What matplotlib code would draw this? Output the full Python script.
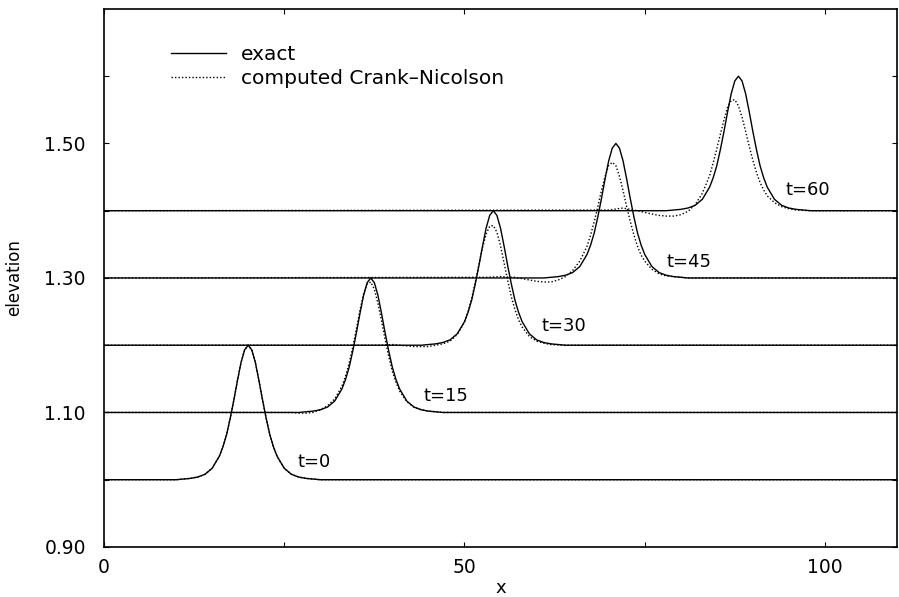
import numpy as np
import matplotlib
matplotlib.use("Agg")
import matplotlib.pyplot as plt
from matplotlib.ticker import FixedLocator, FixedFormatter

plt.rcParams["font.family"] = ["DejaVu Sans"]

# wave snapshots
times = [0, 15, 30, 45, 60]
peak_x = [20, 37, 54, 71, 88]
base_level = [1.0, 1.1, 1.2, 1.3, 1.4]

# offsets from the exact peak
offsets = [-18, -16, -14, -12, -11, -10, -9, -8, -7, -6, -5, -4, -3.5, -3, -2.5,
           -2, -1.5, -1, -0.5, 0, 0.5, 1, 1.5, 2, 2.5, 3, 3.5, 4, 5, 6, 7, 8, 10]

# elevation above the still level
exact_rise = [0, 0, 0, 0, 0, 0, 0.001, 0.002, 0.004, 0.008, 0.017, 0.035, 0.049,
              0.067, 0.091, 0.118, 0.147, 0.174, 0.193, 0.200, 0.193, 0.174, 0.147,
              0.118, 0.091, 0.067, 0.049, 0.035, 0.017, 0.008, 0.004, 0.002, 0]

cn_rise = {
    0: exact_rise,
    15: [0, 0, 0, 0, 0, -0.001, -0.001, 0.000, 0.004, 0.010, 0.020, 0.039, 0.054,
         0.073, 0.097, 0.124, 0.152, 0.176, 0.191, 0.194, 0.183, 0.162, 0.136,
         0.108, 0.083, 0.061, 0.045, 0.032, 0.016, 0.008, 0.004, 0.002, 0],
    30: [0, 0, 0.001, -0.001, -0.002, -0.002, -0.002, 0.000, 0.002, 0.006, 0.016,
         0.034, 0.050, 0.070, 0.094, 0.120, 0.145, 0.165, 0.177, 0.178, 0.168,
         0.148, 0.122, 0.096, 0.072, 0.053, 0.038, 0.027, 0.013, 0.006, 0.003,
         0.001, 0],
    45: [0.001, 0.002, 0.001, -0.003, -0.005, -0.006, -0.006, -0.003, 0.002, 0.011,
         0.025, 0.047, 0.064, 0.084, 0.106, 0.130, 0.151, 0.167, 0.172, 0.167,
         0.151, 0.130, 0.106, 0.084, 0.064, 0.047, 0.034, 0.025, 0.013, 0.006,
         0.003, 0.002, 0],
    60: [0.001, 0.004, 0.000, -0.005, -0.007, -0.008, -0.008, -0.006, -0.001, 0.009,
         0.026, 0.052, 0.071, 0.092, 0.114, 0.135, 0.154, 0.164, 0.165, 0.156,
         0.139, 0.118, 0.096, 0.075, 0.057, 0.042, 0.031, 0.022, 0.012, 0.006,
         0.003, 0.001, 0],
}

label_x = [29.2, 47.4, 63.8, 81.1, 97.6]
label_y = [1.026, 1.125, 1.228, 1.323, 1.431]

x_lo, x_hi = 0, 110


def wave_line(peak, level, rise):
    xs = np.concatenate([[x_lo], peak + np.array(offsets), [x_hi]])
    ys = level + np.concatenate([[0], rise, [0]])
    return xs, ys


fig = plt.figure(figsize=(8.99, 5.97), dpi=100)
ax = fig.add_axes([0.1157, 0.0838, 0.8821, 0.9012])

for i, t in enumerate(times):
    xs, ys = wave_line(peak_x[i], base_level[i], exact_rise)
    ax.plot(xs, ys, color="black", lw=1.0,
            label="exact" if i == 0 else None)
for i, t in enumerate(times):
    xs, ys = wave_line(peak_x[i], base_level[i], cn_rise[t])
    ax.plot(xs, ys, color="black", lw=1.0, linestyle=(0, (1, 1.5)),
            label="computed Crank\u2013Nicolson" if i == 0 else None)

for i, t in enumerate(times):
    ax.text(label_x[i], label_y[i], f"t={t}", ha="center", va="center",
            fontsize=13)

ax.set_xlim(x_lo, x_hi)
ax.set_ylim(0.9, 1.7)

ax.xaxis.set_major_locator(FixedLocator([0, 50, 100]))
ax.xaxis.set_minor_locator(FixedLocator([25, 75]))
ax.yaxis.set_major_locator(FixedLocator([0.9, 1.1, 1.3, 1.5]))
ax.yaxis.set_major_formatter(FixedFormatter(["0.90", "1.10", "1.30", "1.50"]))
ax.yaxis.set_minor_locator(FixedLocator([1.0, 1.2, 1.4, 1.6]))
ax.tick_params(which="both", direction="in", length=3.6, width=0.8,
               top=True, right=True, labelsize=13.5)
ax.tick_params(axis="y", which="major", pad=13)
ax.tick_params(axis="x", which="major", pad=8)
for sp in ax.spines.values():
    sp.set_linewidth(1.2)

ax.set_xlabel("x", fontsize=13)
ax.xaxis.set_label_coords(0.5, -0.06)
ax.set_ylabel("elevation", fontsize=12)
ax.yaxis.set_label_coords(-0.102, 0.5)

ax.legend(loc="upper left", bbox_to_anchor=(0.0845, 0.9325), frameon=False,
          fontsize=14.5, handlelength=2.75, handletextpad=0.7, borderpad=0,
          borderaxespad=0, labelspacing=0.25)

fig.savefig("out.png", dpi=100)
